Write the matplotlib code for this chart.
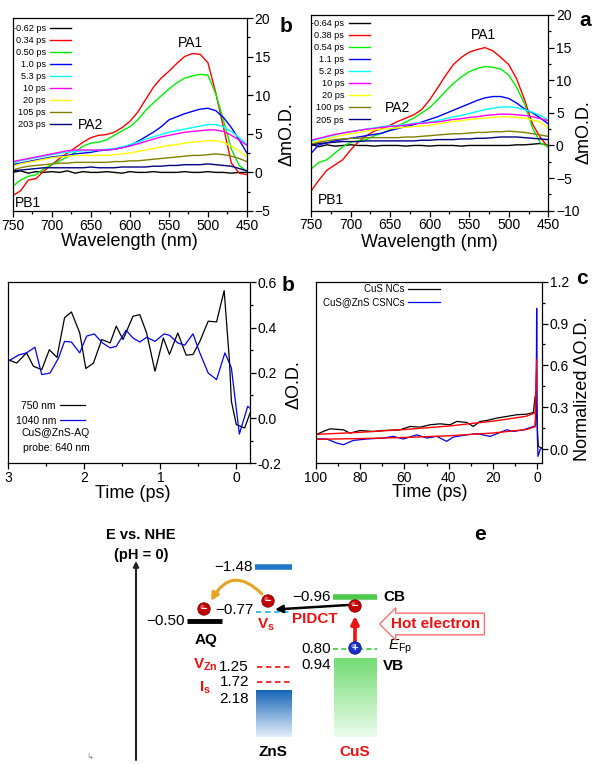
import numpy as np
import matplotlib
matplotlib.use('Agg')
import matplotlib.pyplot as plt
from matplotlib.ticker import MultipleLocator, FormatStrFormatter
from matplotlib.patches import Circle
from matplotlib.colors import LinearSegmentedColormap

plt.rcParams['font.family'] = ['Liberation Sans', 'DejaVu Sans']
plt.rcParams['mathtext.fontset'] = 'custom'
plt.rcParams['mathtext.rm'] = 'Liberation Sans'
plt.rcParams['mathtext.it'] = 'Liberation Sans:italic'
plt.rcParams['mathtext.bf'] = 'Liberation Sans:bold'

# ------------------------------------------------------------------ data
wavelength = [750, 740, 730, 720, 710, 700, 690, 680, 670, 660, 650, 640, 630, 620, 610,
              600, 590, 580, 570, 560, 550, 540, 530, 520, 510, 500, 490, 480, 470, 460, 450]

# panel (top-left, "b")
b_labels = ['-0.62 ps', '0.34 ps', '0.50 ps', '1.0 ps', '5.3 ps', '10 ps', '20 ps', '105 ps', '203 ps']
b_m062 = [0.0, 0.2, -0.1, 0.1, 0.0, 0.1, 0.0, 0.2, -0.1, 0.1, 0.0, 0.0, 0.1, 0.0, -0.1, 0.1,
          0.0, 0.0, 0.1, 0.0, 0.0, 0.0, 0.1, 0.0, 0.0, 0.1, 0.0, 0.0, -0.1, 0.0, 0.0]
b_034 = [-3.0, -2.4, -1.0, -0.8, 0.2, 1.0, 1.8, 2.5, 3.2, 3.9, 4.5, 4.8, 4.9, 5.2, 5.8,
         6.6, 7.8, 9.4, 11.0, 12.2, 13.1, 14.1, 15.0, 15.4, 15.3, 14.2, 10.3, 5.8, 1.2, -0.1, -0.3]
b_050 = [-1.8, -1.0, -0.5, -0.3, 0.5, 1.0, 1.5, 2.0, 2.6, 3.4, 3.8, 3.9, 4.2, 4.8, 5.4,
         5.9, 6.8, 8.0, 9.0, 9.9, 10.8, 11.6, 12.2, 12.5, 12.7, 12.6, 10.2, 6.7, 3.0, 0.9, 0.1]
b_10 = [1.0, 1.2, 1.4, 1.6, 1.8, 2.0, 2.1, 2.2, 2.4, 2.5, 2.6, 2.8, 2.9, 3.0, 3.2,
        3.5, 4.0, 4.6, 5.2, 5.9, 6.8, 7.2, 7.6, 7.9, 8.2, 8.3, 8.0, 7.1, 5.8, 4.2, 2.5]
b_53 = [1.2, 1.5, 1.7, 1.9, 2.1, 2.3, 2.5, 2.6, 2.7, 2.8, 2.8, 2.9, 3.0, 3.1, 3.3,
        3.6, 3.9, 4.3, 4.6, 4.9, 5.2, 5.4, 5.6, 5.8, 6.0, 6.2, 6.2, 5.9, 5.3, 4.5, 3.6]
b_10ps = [1.4, 1.6, 1.8, 2.0, 2.2, 2.4, 2.6, 2.8, 2.9, 2.9, 2.9, 2.9, 2.9, 3.0, 3.2,
          3.4, 3.7, 4.0, 4.3, 4.6, 4.8, 5.0, 5.2, 5.3, 5.4, 5.5, 5.5, 5.3, 4.8, 4.2, 3.5]
b_20ps = [0.8, 1.1, 1.3, 1.5, 1.7, 1.9, 2.0, 2.1, 2.2, 2.2, 2.2, 2.2, 2.2, 2.3, 2.4,
          2.5, 2.7, 2.9, 3.1, 3.3, 3.5, 3.6, 3.8, 3.9, 4.0, 4.1, 4.1, 3.9, 3.4, 2.8, 2.0]
b_105ps = [0.3, 0.6, 0.8, 0.9, 1.0, 1.1, 1.2, 1.2, 1.3, 1.3, 1.3, 1.3, 1.3, 1.4, 1.4,
           1.5, 1.5, 1.6, 1.7, 1.8, 1.9, 2.0, 2.1, 2.2, 2.2, 2.3, 2.4, 2.3, 2.1, 1.8, 1.4]
b_203ps = [0.2, 0.3, 0.4, 0.5, 0.6, 0.6, 0.6, 0.6, 0.6, 0.6, 0.7, 0.6, 0.6, 0.6, 0.7,
           0.7, 0.7, 0.7, 0.8, 0.8, 0.9, 0.9, 1.0, 1.0, 1.0, 1.1, 1.0, 0.9, 0.8, 0.5, 0.2]

# panel (top-right, "a")
a_labels = ['-0.64 ps', '0.38 ps', '0.54 ps', '1.1 ps', '5.2 ps', '10 ps', '20 ps', '100 ps', '205 ps']
a_m064 = [0.2, -0.2, 0.1, -0.1, 0.0, 0.1, 0.0, 0.0, -0.1, 0.0, 0.0, 0.0, -0.1, 0.0, 0.0, -0.1,
          0.0, 0.0, 0.0, -0.1, 0.0, 0.0, 0.0, 0.0, 0.0, 0.0, 0.1, 0.1, 0.2, 0.3, 0.0]
a_038 = [-7.0, -5.3, -3.8, -3.0, -2.2, -0.7, 0.6, 1.5, 2.2, 2.6, 3.1, 3.7, 4.2, 4.7, 5.5,
         7.0, 8.8, 10.7, 12.4, 13.5, 14.3, 14.7, 15.0, 14.5, 13.5, 12.4, 10.2, 7.0, 3.3, 1.2, -0.3]
a_054 = [-3.6, -2.6, -2.2, -1.2, -0.2, 0.5, 0.7, 0.9, 1.5, 1.9, 2.4, 3.0, 3.6, 4.2, 5.0,
         5.8, 7.0, 8.3, 9.5, 10.5, 11.3, 11.8, 12.1, 12.0, 11.7, 10.8, 8.9, 6.4, 2.7, 0.4, -0.2]
a_11 = [-1.2, 0.1, 0.4, 0.7, 0.9, 1.1, 1.3, 1.5, 1.7, 1.9, 2.3, 2.6, 2.9, 3.2, 3.6,
        4.0, 4.4, 4.9, 5.4, 5.9, 6.4, 6.9, 7.3, 7.5, 7.5, 7.2, 6.5, 5.6, 5.0, 4.2, 3.3]
a_52 = [0.6, 1.0, 1.3, 1.6, 1.9, 2.1, 2.3, 2.5, 2.7, 2.9, 3.0, 3.1, 3.2, 3.4, 3.5,
        3.6, 3.8, 4.1, 4.4, 4.6, 4.9, 5.2, 5.5, 5.7, 5.9, 5.9, 5.8, 5.5, 5.1, 4.6, 3.9]
a_10ps = [0.8, 1.1, 1.4, 1.7, 1.9, 2.1, 2.3, 2.5, 2.6, 2.8, 2.9, 3.0, 3.1, 3.3, 3.4,
          3.5, 3.6, 3.8, 4.0, 4.1, 4.3, 4.4, 4.6, 4.7, 4.8, 4.8, 4.7, 4.6, 4.4, 4.1, 3.8]
a_20ps = [0.4, 0.7, 1.0, 1.3, 1.6, 1.8, 2.0, 2.2, 2.4, 2.5, 2.6, 2.7, 2.8, 2.9, 3.0,
          3.1, 3.3, 3.5, 3.7, 3.8, 4.0, 4.1, 4.2, 4.3, 4.4, 4.4, 4.3, 4.2, 3.9, 3.6, 2.6]
a_100ps = [0.2, 0.5, 0.7, 0.9, 1.0, 1.1, 1.1, 1.2, 1.2, 1.2, 1.2, 1.2, 1.3, 1.3, 1.4,
           1.5, 1.6, 1.7, 1.8, 1.8, 1.9, 2.0, 2.0, 2.1, 2.1, 2.2, 2.1, 2.0, 1.8, 1.6, 1.4]
a_205ps = [0.0, 0.3, 0.4, 0.5, 0.6, 0.6, 0.6, 0.7, 0.7, 0.7, 0.7, 0.7, 0.7, 0.7, 0.8,
           0.8, 0.9, 0.9, 0.9, 1.0, 1.0, 1.1, 1.1, 1.2, 1.3, 1.3, 1.3, 1.2, 1.1, 1.0, 0.9]

spec_colors = ['#000000', '#ff0000', '#00ee00', '#0000ff', '#00ffff', '#ff00ff', '#ffff00', '#808000', '#000080']

# panel (middle-left, "b"): kinetics
t750 = [3.0, 2.89, 2.76, 2.67, 2.56, 2.46, 2.36, 2.26, 2.17, 2.06, 1.98, 1.88, 1.77, 1.66, 1.58, 1.49,
        1.36, 1.27, 1.18, 1.07, 0.96, 0.88, 0.77, 0.66, 0.57, 0.48, 0.37, 0.26, 0.16, 0.09, 0.065, 0.0, -0.11, -0.18]
k750 = [0.258, 0.243, 0.288, 0.229, 0.214, 0.302, 0.268, 0.443, 0.469, 0.376, 0.219, 0.243, 0.347, 0.332,
        0.406, 0.347, 0.450, 0.457, 0.376, 0.207, 0.354, 0.281, 0.376, 0.278, 0.281, 0.339, 0.428, 0.425,
        0.563, 0.251, 0.074, -0.029, -0.044, 0.022]
t1040 = [3.0, 2.87, 2.76, 2.65, 2.56, 2.45, 2.34, 2.26, 2.17, 2.06, 1.97, 1.87, 1.76, 1.66, 1.58, 1.45,
         1.36, 1.27, 1.18, 1.07, 0.95, 0.88, 0.77, 0.68, 0.57, 0.48, 0.37, 0.26, 0.15, 0.065, -0.04, -0.15, -0.18]
k1040 = [0.251, 0.278, 0.288, 0.313, 0.192, 0.199, 0.265, 0.339, 0.336, 0.288, 0.362, 0.372, 0.332, 0.310,
         0.317, 0.388, 0.354, 0.336, 0.357, 0.339, 0.372, 0.366, 0.332, 0.322, 0.372, 0.288, 0.199, 0.170,
         0.288, 0.222, -0.071, 0.052, 0.044]

# panel (middle-right, "c"): normalized kinetics
t_cus = [100, 96.6, 93.5, 87.5, 84.5, 80.0, 74.0, 69.5, 62.0, 57.4, 52.9, 48.4, 43.9, 39.4, 36.4, 31.9,
         28.9, 25.9, 22.8, 18.3, 13.8, 9.3, 4.8, 1.8, 1.0, 0.3, -0.45, -2.0]
k_cus = [0.102, 0.126, 0.145, 0.138, 0.114, 0.133, 0.126, 0.133, 0.138, 0.162, 0.157, 0.174, 0.181, 0.174,
         0.198, 0.191, 0.162, 0.198, 0.205, 0.222, 0.234, 0.246, 0.250, 0.262, 0.377, 0.234, 0.019, 0.007]
t_csn = [100, 95.0, 90.5, 87.5, 83.0, 77.0, 69.5, 65.0, 60.5, 54.4, 49.9, 45.4, 40.9, 37.9, 31.9, 27.3,
         21.3, 16.8, 13.8, 10.8, 6.3, 1.8, 1.0, 0.55, 0.3, 0.0, -0.3, -1.2, -2.0]
k_csn = [0.072, 0.072, 0.043, 0.031, 0.062, 0.072, 0.079, 0.091, 0.072, 0.102, 0.079, 0.091, 0.055, 0.086,
         0.102, 0.110, 0.091, 0.119, 0.138, 0.126, 0.138, 0.162, 0.162, 0.281, 1.009, 0.091, -0.053, -0.005, 0.007]
t_fit = [100, 80, 60, 40, 20, 5, 1, 0.3]
fit_cus = [0.105, 0.120, 0.140, 0.165, 0.200, 0.235, 0.260, 0.640]
fit_csn = [0.070, 0.075, 0.083, 0.095, 0.115, 0.140, 0.160, 0.550]

# panel e: energy levels (V vs NHE)
E_zns_cb = -1.48
E_cus_cb = -0.96
E_vs = -0.77
E_aq = -0.50
E_fp = 0.80
E_cus_vb = 0.94
E_vzn = 1.25
E_is = 1.72
E_zns_vb = 2.18

# ------------------------------------------------------------------ figure
W, H = 603, 764
fig = plt.figure(figsize=(W / 100, H / 100), dpi=100)


def px_axes(l, t, r, b):
    return fig.add_axes([l / W, 1 - b / H, (r - l) / W, (b - t) / H])


def style(ax, fs=10):
    ax.yaxis.tick_right()
    ax.yaxis.set_label_position('right')
    ax.tick_params(which='both', direction='out', right=True, left=False, top=False,
                   bottom=True, labelsize=fs, width=0.9, pad=1.5)
    ax.tick_params(which='major', length=4)
    ax.tick_params(which='minor', length=2)
    for s in ax.spines.values():
        s.set_linewidth(0.9)


def labels(ax, xl, yl, xc, yc, fs=13):
    ax.set_xlabel(xl, fontsize=fs)
    ax.set_ylabel(yl, fontsize=fs)
    ax.xaxis.label.set_va('center')
    ax.xaxis.set_label_coords(*xc)
    ax.yaxis.label.set(ha='center', va='center', rotation_mode='anchor')
    ax.yaxis.set_label_coords(*yc)


def fmt_level(v):
    return ('\u2212%.2f' % abs(v)) if v < 0 else ('%.2f' % v)


# ---------------- panel e (schematic, pixel-based layout, drawn first)
ax_e = fig.add_axes([0, 0, 1, 1])
ax_e.set_xlim(0, W)
ax_e.set_ylim(H, 0)
ax_e.axis('off')


def e2y(E):
    # schematic (non-linear) energy axis of the diagram
    return float(np.interp(E, [-1.48, -0.96, -0.77, -0.50, 0.80, 0.94, 1.25, 1.72, 2.18],
                           [567, 597, 612, 621, 649, 658, 667, 682, 690]))


# energy axis
ax_e.annotate('', xy=(136, 561), xytext=(136, 760),
              arrowprops=dict(arrowstyle='-|>', lw=1.5, color='#222222', mutation_scale=8,
                              shrinkA=0, shrinkB=0))
ax_e.text(141, 535, 'E vs. NHE', ha='center', va='center', fontsize=10.5, fontweight='bold')
ax_e.text(141, 555, '(pH = 0)', ha='center', va='center', fontsize=10.5, fontweight='bold')
ax_e.text(480, 535, 'e', ha='center', va='center', fontsize=15, fontweight='bold')
ax_e.text(90, 758, '\u21b3', ha='center', va='center', fontsize=6, color='#888888')

# gradient boxes (valence bands)
grad = np.linspace(0, 1, 120).reshape(-1, 1)
cm_g = LinearSegmentedColormap.from_list('g', ['#74dc74', '#ecfcec'])
cm_b = LinearSegmentedColormap.from_list('b', ['#1766b8', '#e4eefa'])
ax_e.imshow(grad, cmap=cm_g, extent=(334, 377, 737, e2y(E_cus_vb)), origin='upper',
            aspect='auto', interpolation='bilinear')
ax_e.imshow(grad, cmap=cm_b, extent=(256, 292, 737, e2y(E_zns_vb)), origin='upper',
            aspect='auto', interpolation='bilinear')
ax_e.set_xlim(0, W)
ax_e.set_ylim(H, 0)

# CuS levels
y = e2y(E_cus_cb)
ax_e.plot([333, 377], [y, y], color='#4cc84c', lw=4, solid_capstyle='butt')
ax_e.text(331, y, fmt_level(E_cus_cb), ha='right', va='center', fontsize=11)
ax_e.text(383, y, 'CB', ha='left', va='center', fontsize=11, fontweight='bold')
y = e2y(E_fp)
ax_e.plot([333, 377], [y, y], color='#33cc33', lw=1.2, ls=(0, (3, 2)))
ax_e.text(331, y, fmt_level(E_fp), ha='right', va='center', fontsize=11)
ax_e.text(388, y - 2, r'$E_{\mathregular{Fp}}$', ha='left', va='center', fontsize=11)
y = e2y(E_cus_vb)
ax_e.text(331, y + 7, fmt_level(E_cus_vb), ha='right', va='center', fontsize=11)
ax_e.text(383, y + 8, 'VB', ha='left', va='center', fontsize=11, fontweight='bold')
ax_e.text(355, 752, 'CuS', ha='center', va='center', fontsize=11, fontweight='bold', color='#ee1111')

# ZnS levels
y = e2y(E_zns_cb)
ax_e.plot([255, 292], [y, y], color='#1f78c8', lw=4, solid_capstyle='butt')
ax_e.text(253, y, fmt_level(E_zns_cb), ha='right', va='center', fontsize=11)
y = e2y(E_vs)
ax_e.plot([256, 292], [y, y], color='#33bbee', lw=1.3, ls=(0, (3, 2)))
ax_e.text(254, y - 2, fmt_level(E_vs), ha='right', va='center', fontsize=11)
ax_e.text(266, y + 13, r'V$_\mathregular{s}$', ha='center', va='center', fontsize=11,
          color='#ee1111', fontweight='bold')
for E, lab, dy in [(E_vzn, r'V$_\mathregular{Zn}$', -2), (E_is, r'I$_\mathregular{s}$', 6)]:
    y = e2y(E)
    ax_e.plot([257, 292], [y, y], color='#ee2222', lw=1.3, ls=(0, (3, 2)))
    ax_e.text(249, y, fmt_level(E), ha='right', va='center', fontsize=11)
    ax_e.text(205, y + dy, lab, ha='center', va='center', fontsize=11, color='#ee1111',
              fontweight='bold')
ax_e.text(249, e2y(E_zns_vb) + 9, fmt_level(E_zns_vb), ha='right', va='center', fontsize=11)
ax_e.text(273, 752, 'ZnS', ha='center', va='center', fontsize=11, fontweight='bold')

# AQ
y = e2y(E_aq)
ax_e.plot([187, 222], [y, y], color='black', lw=3.5, solid_capstyle='butt')
ax_e.text(185, y, fmt_level(E_aq), ha='right', va='center', fontsize=11)
ax_e.text(206, y + 19, 'AQ', ha='center', va='center', fontsize=11, fontweight='bold')


def ball(x, y, fc, ec, sign):
    ax_e.add_patch(Circle((x, y), 6.2, fc=fc, ec=ec, lw=0.6, zorder=5))
    ax_e.add_patch(Circle((x - 1.8, y - 2.2), 2.0, fc='white', ec='none', alpha=0.35, zorder=6))
    ax_e.text(x, y + 0.3, sign, ha='center', va='center', fontsize=8, color='white',
              fontweight='bold', zorder=7)


# arrows
ax_e.annotate('', xy=(275, 609.5), xytext=(348, 605),
              arrowprops=dict(arrowstyle='-|>', lw=1.8, color='black', mutation_scale=11,
                              shrinkA=0, shrinkB=0))
ax_e.text(315, 619, 'PIDCT', ha='center', va='center', fontsize=11, fontweight='bold', color='#ee1111')
ax_e.annotate('', xy=(355, 616), xytext=(355, 641),
              arrowprops=dict(arrowstyle='-|>', lw=2.6, color='#ee1111', mutation_scale=11,
                              shrinkA=0, shrinkB=0))
ax_e.annotate('', xy=(211, 601), xytext=(262, 594),
              arrowprops=dict(arrowstyle='-|>', lw=2.2, color='#e2a526', mutation_scale=11,
                              connectionstyle='arc3,rad=0.65', shrinkA=0, shrinkB=0))
ball(355, 606, '#c40000', '#800000', '\u2212')
ball(268, 601, '#c40000', '#800000', '\u2212')
ball(204, 609, '#c40000', '#800000', '\u2212')
ball(355, 648, '#1a2fd0', '#0a1570', '+')

ax_e.text(436, 624, 'Hot electron', ha='center', va='center', fontsize=11, fontweight='bold',
          color='#ee1111',
          bbox=dict(boxstyle='larrow,pad=0.25', fc='white', ec='#ff7070', lw=1.0))

# ---------------- top-left spectra ("b")
ax1 = px_axes(12.7, 18, 247, 211)
series_b = [b_m062, b_034, b_050, b_10, b_53, b_10ps, b_20ps, b_105ps, b_203ps]
for ys, c, lab in zip(series_b, spec_colors, b_labels):
    ax1.plot(wavelength, ys, color=c, lw=1.0, label=lab)
ax1.set_xlim(750, 450)
ax1.set_ylim(-5, 20)
style(ax1)
ax1.xaxis.set_major_locator(MultipleLocator(50))
ax1.xaxis.set_minor_locator(MultipleLocator(25))
ax1.yaxis.set_major_locator(MultipleLocator(5))
ax1.yaxis.set_minor_locator(MultipleLocator(2.5))
labels(ax1, 'Wavelength (nm)', '\u0394mO.D.', (0.50, -0.16), (1.171, 0.40))
ax1.legend(loc='upper left', bbox_to_anchor=(0.0, 0.968), markerfirst=False, frameon=False,
           fontsize=6.6, handlelength=2.3, handletextpad=0.5, labelspacing=0.33, borderpad=0,
           borderaxespad=0)
ax1.text(523, 16.7, 'PA1', fontsize=10, ha='center', va='center')
ax1.text(650, 6.2, 'PA2', fontsize=10, ha='center', va='center')
ax1.text(730, -3.9, 'PB1', fontsize=10, ha='center', va='center')
fig.text(286 / W, 1 - 26 / H, 'b', fontsize=15, fontweight='bold', ha='center', va='center')

# ---------------- top-right spectra ("a")
ax2 = px_axes(311, 15, 548.3, 210.7)
series_a = [a_m064, a_038, a_054, a_11, a_52, a_10ps, a_20ps, a_100ps, a_205ps]
for ys, c, lab in zip(series_a, spec_colors, a_labels):
    ax2.plot(wavelength, ys, color=c, lw=1.0, label=lab)
ax2.set_xlim(750, 450)
ax2.set_ylim(-10, 20)
style(ax2)
ax2.xaxis.set_major_locator(MultipleLocator(50))
ax2.xaxis.set_minor_locator(MultipleLocator(25))
ax2.yaxis.set_major_locator(MultipleLocator(5))
ax2.yaxis.set_minor_locator(MultipleLocator(2.5))
labels(ax2, 'Wavelength (nm)', '\u0394mO.D.', (0.50, -0.16), (1.150, 0.40))
ax2.legend(loc='upper left', bbox_to_anchor=(0.0, 0.978), markerfirst=False, frameon=False,
           fontsize=6.6, handlelength=2.3, handletextpad=0.5, labelspacing=0.33, borderpad=0,
           borderaxespad=0)
ax2.text(532, 16.9, 'PA1', fontsize=10, ha='center', va='center')
ax2.text(640, 5.7, 'PA2', fontsize=10, ha='center', va='center')
ax2.text(725, -8.4, 'PB1', fontsize=10, ha='center', va='center')
fig.text(585 / W, 1 - 20 / H, 'a', fontsize=15, fontweight='bold', ha='center', va='center')

# ---------------- middle-left kinetics ("b")
ax3 = px_axes(8.3, 282.3, 250, 463.3)
ax3.plot(t750, k750, color='black', lw=0.9, label='750 nm')
ax3.plot(t1040, k1040, color='#0000ee', lw=0.9, label='1040 nm')
ax3.set_xlim(3, -0.18)
ax3.set_ylim(-0.2, 0.6)
style(ax3)
ax3.xaxis.set_major_locator(MultipleLocator(1))
ax3.xaxis.set_minor_locator(MultipleLocator(0.5))
ax3.yaxis.set_major_locator(MultipleLocator(0.2))
ax3.yaxis.set_minor_locator(MultipleLocator(0.1))
ax3.yaxis.set_major_formatter(FormatStrFormatter('%.1f'))
labels(ax3, 'Time (ps)', '\u0394O.D.', (0.516, -0.165), (1.182, 0.433))
ax3.legend(loc='upper left', bbox_to_anchor=(0.03, 0.345), markerfirst=False, frameon=False,
           fontsize=7.5, handlelength=2.4, handletextpad=0.4, labelspacing=0.45, borderpad=0,
           borderaxespad=0)
ax3.text((90 - 8.3) / 241.7, (463.3 - 433) / 181, 'CuS@ZnS-AQ', transform=ax3.transAxes,
         fontsize=7.5, ha='right', va='center')
ax3.text((90 - 8.3) / 241.7, (463.3 - 448) / 181, 'probe: 640 nm', transform=ax3.transAxes,
         fontsize=7.5, ha='right', va='center')
fig.text(288 / W, 1 - 285 / H, 'b', fontsize=15, fontweight='bold', ha='center', va='center')

# ---------------- middle-right normalized kinetics ("c")
ax4 = px_axes(315.7, 281.7, 542, 463)
ax4.plot(t_cus, k_cus, color='black', lw=0.9, label='CuS NCs')
ax4.plot(t_csn, k_csn, color='#0000ee', lw=0.9, label='CuS@ZnS CSNCs')
ax4.plot(t_fit, fit_cus, color='#ff0000', lw=1.0)
ax4.plot(t_fit, fit_csn, color='#ff0000', lw=1.0)
ax4.set_xlim(100, -2.1)
ax4.set_ylim(-0.1, 1.2)
style(ax4)
ax4.xaxis.set_major_locator(MultipleLocator(20))
ax4.xaxis.set_minor_locator(MultipleLocator(10))
ax4.yaxis.set_major_locator(MultipleLocator(0.3))
ax4.yaxis.set_minor_locator(MultipleLocator(0.15))
ax4.yaxis.set_major_formatter(FormatStrFormatter('%.1f'))
labels(ax4, 'Time (ps)', 'Normalized \u0394O.D.', (0.505, -0.165), (1.177, 0.408))
ax4.legend(loc='upper right', bbox_to_anchor=((440 - 315.7) / 226.3, (463 - 284) / 181.3),
           markerfirst=False, frameon=False, fontsize=7, handlelength=3.3, handletextpad=0.3,
           labelspacing=0.35, borderpad=0, borderaxespad=0)
fig.text(582 / W, 1 - 279 / H, 'c', fontsize=15, fontweight='bold', ha='center', va='center')

fig.savefig('out.png', dpi=100)
